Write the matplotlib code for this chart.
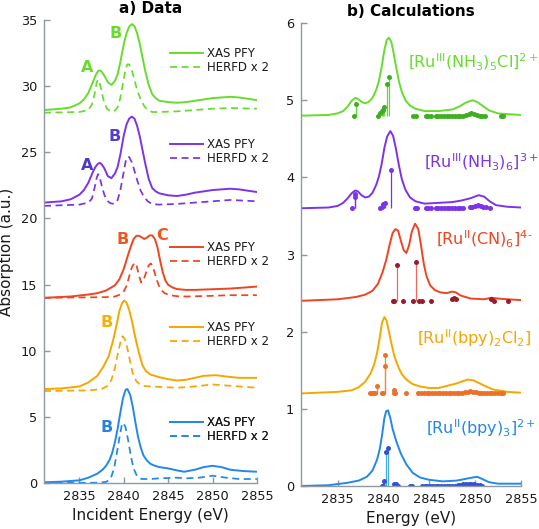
import matplotlib
matplotlib.use('Agg')
import matplotlib.pyplot as plt

plt.rcParams['font.family'] = ['DejaVu Sans']
plt.rcParams['mathtext.default'] = 'regular'

# ---------------- data: panel a (experiment) ----------------
green_pfy_x = [2831, 2833, 2834, 2835, 2835.5, 2836, 2836.5, 2836.8, 2837.1, 2837.3, 2837.5, 2837.8, 2838.2,
               2838.6, 2839, 2839.3, 2839.6, 2840, 2840.3, 2840.6, 2840.9, 2841.2, 2841.5, 2841.8, 2842.1,
               2842.4, 2842.8, 2843.2, 2843.6, 2844, 2845, 2846, 2847, 2848, 2849, 2850, 2851, 2852, 2853,
               2854, 2855]
green_pfy_y = [28.2, 28.3, 28.4, 28.7, 29.0, 29.5, 30.3, 30.8, 31.15, 31.2, 31.1, 30.8, 30.3,
               30.1, 30.4, 30.9, 31.8, 33.2, 34.0, 34.5, 34.7, 34.55, 34.0, 33.2, 32.2,
               31.2, 30.1, 29.4, 29.1, 28.9, 28.8, 28.75, 28.8, 28.9, 29.0, 29.1, 29.15, 29.2, 29.15,
               29.05, 28.95]
green_herfd_x = [2831, 2835, 2836, 2836.4, 2836.7, 2836.95, 2837.1, 2837.25, 2837.5, 2837.8, 2838.1, 2838.5,
                 2838.9, 2839.3, 2839.6, 2839.9, 2840.2, 2840.4, 2840.6, 2840.9, 2841.2, 2841.5, 2841.9,
                 2842.3, 2842.7, 2843.2, 2844, 2846, 2848, 2850, 2852, 2855]
green_herfd_y = [28.0, 28.05, 28.2, 28.6, 29.4, 30.3, 30.5, 30.35, 29.6, 28.7, 28.3, 28.12,
                 28.1, 28.4, 29.1, 30.2, 31.3, 31.65, 31.65, 31.2, 30.5, 29.7, 29.0,
                 28.5, 28.2, 28.05, 28.05, 28.1, 28.2, 28.3, 28.35, 28.3]

purple_pfy_x = green_pfy_x
purple_pfy_y = [21.2, 21.3, 21.45, 21.8, 22.15, 22.7, 23.5, 23.9, 24.15, 24.2, 24.1, 23.8, 23.2,
                23.05, 23.4, 23.9, 24.8, 26.3, 27.1, 27.55, 27.7, 27.55, 27.0, 26.2, 25.2,
                24.2, 23.0, 22.3, 22.05, 21.9, 21.75, 21.7, 21.8, 21.95, 22.05, 22.15, 22.2, 22.25, 22.2,
                22.1, 22.0]
purple_herfd_x = green_herfd_x
purple_herfd_y = [20.95, 21.05, 21.2, 21.5, 22.3, 23.1, 23.35, 23.2, 22.5, 21.8, 21.35, 21.15,
                  21.1, 21.4, 22.1, 23.2, 24.3, 24.65, 24.65, 24.25, 23.6, 22.9, 22.1,
                  21.6, 21.3, 21.08, 21.05, 21.1, 21.2, 21.3, 21.4, 21.3]

red_pfy_x = [2831, 2834, 2836, 2837, 2838, 2839, 2839.5, 2840, 2840.5, 2840.8, 2841.1, 2841.4, 2841.7, 2842,
             2842.3, 2842.6, 2842.9, 2843.2, 2843.5, 2843.8, 2844.1, 2844.4, 2844.7, 2845, 2845.5, 2846,
             2847, 2848, 2850, 2852, 2854, 2855]
red_pfy_y = [14.0, 14.1, 14.25, 14.35, 14.55, 14.95, 15.4, 16.2, 17.3, 17.9, 18.45, 18.68, 18.7, 18.58,
             18.45, 18.55, 18.72, 18.72, 18.45, 17.8, 16.8, 15.9, 15.3, 14.98, 14.78, 14.66,
             14.6, 14.6, 14.65, 14.7, 14.8, 14.85]
red_herfd_x = [2831, 2838, 2839, 2839.6, 2840, 2840.3, 2840.6, 2840.9, 2841.2, 2841.45, 2841.7, 2841.95,
               2842.2, 2842.5, 2842.8, 2843.05, 2843.3, 2843.6, 2843.9, 2844.2, 2844.6, 2845.2, 2846,
               2847, 2850, 2852, 2855]
red_herfd_y = [14.0, 14.05, 14.1, 14.25, 14.5, 14.9, 15.6, 16.3, 16.65, 16.4, 15.7, 15.15,
               15.3, 15.9, 16.45, 16.6, 16.3, 15.6, 15.0, 14.6, 14.35, 14.2, 14.12,
               14.1, 14.15, 14.2, 14.2]

orange_pfy_x = [2831, 2833, 2835, 2836, 2837, 2837.7, 2838.3, 2838.8, 2839.2, 2839.5, 2839.8, 2840.05, 2840.3,
                2840.6, 2840.9, 2841.2, 2841.5, 2841.8, 2842.1, 2842.5, 2843, 2843.5, 2844, 2845, 2846, 2847,
                2848, 2849, 2850.4, 2851.5, 2853, 2855]
orange_pfy_y = [7.1, 7.15, 7.3, 7.6, 8.1, 8.8, 9.6, 10.8, 12.0, 13.0, 13.6, 13.8, 13.65,
                13.1, 12.3, 11.3, 10.4, 9.6, 8.9, 8.45, 8.2, 8.1, 8.0, 7.85, 7.75, 7.8,
                7.95, 8.1, 8.15, 8.05, 7.95, 7.95]
orange_herfd_x = [2831, 2836, 2837.5, 2838.2, 2838.6, 2839.0, 2839.3, 2839.6, 2839.85, 2840.1, 2840.4, 2840.7,
                  2841.0, 2841.4, 2841.8, 2842.3, 2843, 2846, 2848, 2850, 2852, 2855]
orange_herfd_y = [6.95, 7.0, 7.1, 7.35, 7.8, 8.7, 9.7, 10.6, 11.1, 10.9, 10.2, 9.2,
                  8.3, 7.7, 7.45, 7.33, 7.3, 7.2, 7.3, 7.45, 7.35, 7.2]

blue_pfy_x = [2831, 2833, 2835, 2836, 2837, 2837.6, 2838, 2838.4, 2838.7, 2839, 2839.3, 2839.6, 2839.9,
              2840.2, 2840.4, 2840.7, 2841, 2841.3, 2841.6, 2841.9, 2842.2, 2842.6, 2843, 2843.5, 2844,
              2845, 2846, 2846.8, 2848, 2849, 2850, 2851, 2852, 2853.5, 2855]
blue_pfy_y = [0.05, 0.1, 0.2, 0.4, 0.7, 1.0, 1.3, 1.75, 2.3, 3.1, 4.1, 5.3, 6.4,
              7.05, 7.1, 6.7, 5.8, 4.6, 3.5, 2.7, 2.1, 1.7, 1.45, 1.3, 1.2,
              1.1, 0.95, 0.85, 1.0, 1.2, 1.3, 1.2, 1.0, 0.9, 0.85]
blue_herfd_x = [2831, 2837, 2838, 2838.5, 2838.9, 2839.2, 2839.5, 2839.75, 2839.95, 2840.2, 2840.5, 2840.8,
                2841.1, 2841.5, 2842, 2843, 2844, 2846, 2847, 2848.5, 2850, 2851.5, 2853, 2855]
blue_herfd_y = [0.0, 0.02, 0.08, 0.3, 1.1, 2.2, 3.4, 4.3, 4.55, 4.2, 3.2, 2.0,
                1.1, 0.5, 0.3, 0.3, 0.35, 0.4, 0.35, 0.4, 0.55, 0.4, 0.3, 0.3]

legend_labels = ['XAS PFY', 'HERFD x 2']

# ---------------- data: panel b (calculations) ----------------
green_calc_x = [2831, 2834, 2835, 2835.6, 2836.1, 2836.5, 2836.9, 2837.2, 2837.6, 2838.0, 2838.4, 2838.8,
                2839.2, 2839.5, 2839.8, 2840.1, 2840.35, 2840.6, 2840.85, 2841.1, 2841.4, 2841.7, 2842.0,
                2842.4, 2842.9, 2843.5, 2844.5, 2846, 2847.5, 2848.3, 2849, 2849.7, 2850.2, 2850.8,
                2851.5, 2852.5, 2853.5, 2855]
green_calc_y = [4.8, 4.81, 4.83, 4.86, 4.92, 4.99, 5.03, 5.02, 4.98, 4.96, 4.98, 5.03,
                5.13, 5.25, 5.43, 5.65, 5.78, 5.81, 5.76, 5.62, 5.42, 5.24, 5.11,
                5.0, 4.93, 4.89, 4.86, 4.86, 4.88, 4.92, 4.97, 5.0, 4.98, 4.93,
                4.87, 4.83, 4.82, 4.81]
purple_calc_x = [2831, 2834, 2835, 2835.6, 2836.1, 2836.5, 2836.9, 2837.2, 2837.6, 2838.0, 2838.4, 2838.8,
                 2839.2, 2839.5, 2839.8, 2840.1, 2840.4, 2840.75, 2841.05, 2841.35, 2841.7, 2842.0, 2842.4,
                 2842.9, 2843.5, 2844.5, 2846, 2847.5, 2848.5, 2849.5, 2850.4, 2851, 2851.6, 2852.3,
                 2853.5, 2855]
purple_calc_y = [3.6, 3.61, 3.63, 3.67, 3.73, 3.79, 3.83, 3.82, 3.77, 3.74, 3.75, 3.8,
                 3.9, 4.01, 4.17, 4.38, 4.53, 4.6, 4.54, 4.38, 4.15, 3.98, 3.84,
                 3.74, 3.69, 3.66, 3.67, 3.68, 3.7, 3.73, 3.77, 3.75, 3.69, 3.64,
                 3.62, 3.61]
red_calc_x = [2831, 2835, 2837, 2838, 2838.8, 2839.4, 2839.9, 2840.3, 2840.7, 2841.0, 2841.3, 2841.6, 2841.9,
              2842.2, 2842.5, 2842.8, 2843.1, 2843.45, 2843.8, 2844.1, 2844.4, 2844.7, 2845.1, 2845.6,
              2846.2, 2846.9, 2847.5, 2847.9, 2848.4, 2849.5, 2851, 2851.8, 2852.5, 2853.5, 2855]
red_calc_y = [2.4, 2.42, 2.45, 2.48, 2.53, 2.62, 2.77, 2.93, 3.14, 3.28, 3.33, 3.31, 3.18,
              3.06, 3.02, 3.12, 3.3, 3.4, 3.33, 3.12, 2.88, 2.72, 2.6, 2.54,
              2.51, 2.5, 2.52, 2.51, 2.47, 2.43, 2.42, 2.44, 2.43, 2.42, 2.41]
orange_calc_x = [2831, 2835, 2836.5, 2837.3, 2838.0, 2838.6, 2839.0, 2839.3, 2839.6, 2839.85, 2840.1, 2840.35,
                 2840.6, 2840.9, 2841.2, 2841.6, 2842.0, 2842.5, 2843.2, 2844, 2845, 2846, 2847, 2848,
                 2848.7, 2849.2, 2849.8, 2850.5, 2851.2, 2852, 2853.5, 2855]
orange_calc_y = [1.2, 1.22, 1.24, 1.28, 1.35, 1.46, 1.58, 1.72, 1.93, 2.12, 2.19, 2.14,
                 2.0, 1.83, 1.68, 1.55, 1.45, 1.38, 1.32, 1.29, 1.27, 1.27, 1.3, 1.33,
                 1.36, 1.38, 1.37, 1.33, 1.29, 1.25, 1.22, 1.21]
blue_calc_x = [2831, 2834, 2836, 2837.3, 2838.2, 2838.8, 2839.3, 2839.6, 2839.85, 2840.1, 2840.3, 2840.5,
               2840.75, 2841.0, 2841.4, 2841.9, 2842.5, 2843.2, 2844, 2845, 2846.5, 2848, 2849.3, 2850.2,
               2850.8, 2851.5, 2852.5, 2855]
blue_calc_y = [0.0, 0.01, 0.04, 0.07, 0.12, 0.2, 0.34, 0.48, 0.66, 0.88, 0.97, 0.98,
               0.88, 0.74, 0.58, 0.42, 0.28, 0.17, 0.11, 0.08, 0.06, 0.07, 0.1, 0.12,
               0.09, 0.05, 0.03, 0.03]

# transitions (energy, intensity above offset)
green_stick_e = [2836.8, 2837.0, 2839.4, 2839.6, 2839.8, 2839.95, 2840.1, 2840.4, 2840.6,
                 2843.2, 2843.5, 2844.6, 2844.9, 2845.2, 2845.7, 2846.0, 2846.3, 2846.6, 2846.9, 2847.2,
                 2847.5, 2847.8, 2848.1, 2848.4, 2848.7, 2849.0, 2849.3, 2849.6, 2849.9, 2850.2, 2850.5,
                 2850.8, 2851.1, 2852.8, 2853.1]
green_stick_i = [0.0, 0.15, 0.0, 0.03, 0.06, 0.08, 0.11, 0.41, 0.5,
                 0, 0, 0, 0, 0, 0, 0, 0, 0, 0, 0,
                 0, 0, 0, 0, 0, 0.01, 0.02, 0.03, 0.02, 0.01, 0,
                 0, 0, 0, 0]
purple_stick_e = [2836.6, 2836.9, 2836.9, 2839.6, 2839.8, 2840.0, 2840.2, 2840.8,
                  2843.4, 2843.7, 2844.6, 2844.9, 2845.2, 2845.7, 2846.0, 2846.3, 2846.6, 2846.9, 2847.2,
                  2847.5, 2847.8, 2848.1, 2848.4, 2848.7, 2849.4, 2849.7, 2850.0, 2850.3, 2850.6, 2850.9,
                  2851.2, 2851.6]
purple_stick_i = [0.0, 0.18, 0.14, 0.0, 0.02, 0.05, 0.07, 0.5,
                  0, 0, 0, 0, 0, 0, 0, 0, 0, 0, 0,
                  0, 0, 0, 0, 0, 0.01, 0.02, 0.03, 0.04, 0.03, 0.02,
                  0.01, 0]
red_stick_e = [2841.0, 2841.2, 2841.5, 2842.1, 2843.2, 2843.5, 2843.9, 2844.2, 2845.2, 2847.5, 2847.7,
               2847.9, 2851.7, 2852.1, 2853.6]
red_stick_i = [0, 0, 0.46, 0, 0, 0.5, 0, 0, 0, 0.02, 0.04, 0.02, 0.02, 0, 0]
orange_stick_e = [2838.5, 2838.7, 2838.9, 2839.1, 2839.3, 2839.8, 2840.0, 2840.2, 2840.2,
                  2841.1, 2841.2, 2841.3, 2842.5,
                  2843.8, 2844.1, 2844.4, 2844.7, 2845.0, 2845.3, 2845.6, 2845.9, 2846.2, 2846.5, 2846.8,
                  2847.1, 2847.4, 2847.7, 2848.0, 2848.3, 2848.6, 2848.9, 2849.2, 2849.5, 2849.8, 2850.1,
                  2850.4, 2850.7, 2851.0, 2851.3, 2851.6, 2851.9, 2852.2, 2852.5, 2852.8, 2853.1]
orange_stick_i = [0, 0, 0, 0, 0.1, 0, 0, 0.35, 0.5,
                  0, 0.04, 0, 0,
                  0, 0, 0, 0, 0, 0, 0, 0, 0, 0, 0,
                  0, 0, 0, 0, 0, 0.01, 0.02, 0.02, 0.03, 0.02, 0.02,
                  0.01, 0, 0, 0, 0, 0, 0, 0, 0, 0]
blue_stick_e = [2839.8, 2840.0, 2840.1, 2840.3, 2840.5, 2841.2, 2841.4, 2841.6, 2842.9, 2843.1,
                2844.2, 2844.5, 2844.8, 2845.1, 2845.4, 2845.7, 2846.0, 2846.3, 2846.6, 2846.9, 2847.2,
                2847.5, 2847.8, 2848.1, 2848.4, 2848.7, 2849.0, 2849.3, 2849.6, 2849.9, 2850.2, 2850.5,
                2850.8]
blue_stick_i = [0, 0, 0.06, 0.44, 0.49, 0.02, 0.03, 0, 0, 0,
                0, 0, 0, 0, 0, 0, 0, 0, 0, 0, 0,
                0, 0, 0.01, 0.01, 0.02, 0.02, 0.03, 0.02, 0.02, 0.01, 0.01,
                0]

calc_offsets = [4.8, 3.6, 2.4, 1.2, 0.0]
calc_labels = [r'[Ru$^{III}$(NH$_3$)$_5$Cl]$^{2+}$',
               r'[Ru$^{III}$(NH$_3$)$_6$]$^{3+}$',
               r'[Ru$^{II}$(CN)$_6$]$^{4\text{-}}$',
               r'[Ru$^{II}$(bpy)$_2$Cl$_2$]',
               r'[Ru$^{II}$(bpy)$_3$]$^{2+}$']

# ---------------- styling ----------------
c_green, c_purple, c_red, c_orange, c_blue = '#66dd2c', '#7c33ea', '#ee4422', '#f5a700', '#2288ea'
stick_marker = ['#3fae22', '#7c33ea', '#9a1a2e', '#ee7028', '#3350d8']
stick_line = ['#66dd2c', '#7c33ea', '#ee6a5a', '#ee8a3a', '#44aaee']
spine_c = '#8d99a3'

fig = plt.figure(figsize=(5.39, 5.29), dpi=100)
axL = fig.add_axes([0.0816, 0.087, 0.395, 0.875])
axR = fig.add_axes([0.5584, 0.0813, 0.408, 0.875])

for ax in (axL, axR):
    for s in ('top', 'right'):
        ax.spines[s].set_visible(False)
    for s in ('left', 'bottom'):
        ax.spines[s].set_color(spine_c)
        ax.spines[s].set_linewidth(1.0)
    ax.tick_params(direction='in', length=4, width=1, color=spine_c, labelsize=9.3,
                   labelcolor='#1a1a1a', pad=5)
    ax.set_xlim(2831, 2855)
    ax.set_xticks([2835, 2840, 2845, 2850, 2855])

# ---- panel a ----
lw = 1.4
dash = (4, 2.6)
pairs = [
    (green_pfy_x, green_pfy_y, green_herfd_x, green_herfd_y, c_green, 0.9125),
    (purple_pfy_x, purple_pfy_y, purple_herfd_x, purple_herfd_y, c_purple, 0.716),
    (red_pfy_x, red_pfy_y, red_herfd_x, red_herfd_y, c_red, 0.4935),
    (orange_pfy_x, orange_pfy_y, orange_herfd_x, orange_herfd_y, c_orange, 0.3207),
    (blue_pfy_x, blue_pfy_y, blue_herfd_x, blue_herfd_y, c_blue, 0.1156),
]
for px, py, hx, hy, col, ly in pairs:
    h1, = axL.plot(px, py, color=col, lw=lw, solid_joinstyle='round')
    h2, = axL.plot(hx, hy, color=col, lw=lw * 0.9, dashes=dash, dash_joinstyle='round')
    leg = axL.legend([h1, h2], legend_labels, loc='center left', bbox_to_anchor=(0.5915, ly),
                     frameon=False, fontsize=8.5, handlelength=2.8, handletextpad=0.35,
                     labelspacing=0.12, borderpad=0, borderaxespad=0)
    for t in leg.get_texts():
        t.set_color('#1a1a1a')
    axL.add_artist(leg)

axL.set_ylim(0, 35)
axL.set_yticks([0, 5, 10, 15, 20, 25, 30, 35])
axL.set_ylabel('Absorption (a.u.)', fontsize=11, labelpad=5, color='#1a1a1a')
axL.set_xlabel('Incident Energy (eV)', fontsize=11, labelpad=4, color='#1a1a1a')
axL.set_title('a) Data', fontsize=11, fontweight='bold', pad=5)

lab_kw = dict(fontsize=11.5, fontweight='bold', ha='center', va='center')
axL.text(2835.9, 31.4, 'A', color=c_green, **lab_kw)
axL.text(2839.1, 34.0, 'B', color=c_green, **lab_kw)
axL.text(2835.9, 24.0, 'A', color='#5038c0', **lab_kw)
axL.text(2839.0, 26.2, 'B', color='#5a3ad2', **lab_kw)
axL.text(2839.9, 18.4, 'B', color='#f05522', **lab_kw)
axL.text(2844.3, 18.75, 'C', color='#f05522', **lab_kw)
axL.text(2838.1, 12.1, 'B', color='#f5b000', **lab_kw)
axL.text(2838.1, 4.2, 'B', color='#2a80e0', **lab_kw)

# ---- panel b ----
calc = [
    (green_calc_x, green_calc_y, green_stick_e, green_stick_i, c_green),
    (purple_calc_x, purple_calc_y, purple_stick_e, purple_stick_i, c_purple),
    (red_calc_x, red_calc_y, red_stick_e, red_stick_i, c_red),
    (orange_calc_x, orange_calc_y, orange_stick_e, orange_stick_i, c_orange),
    (blue_calc_x, blue_calc_y, blue_stick_e, blue_stick_i, c_blue),
]
for k, (cx, cy, se, si, col) in enumerate(calc):
    b = calc_offsets[k]
    axR.plot(cx, cy, color=col, lw=lw, solid_joinstyle='round')
    tops = [b + v for v in si]
    axR.vlines(se, b, tops, color=stick_line[k], lw=0.9)
    axR.plot(se, tops, 'o', color=stick_marker[k], ms=3.6, mew=0)

axR.set_ylim(0, 6)
axR.set_yticks([0, 1, 2, 3, 4, 5, 6])
axR.set_xlabel('Energy (eV)', fontsize=11, labelpad=4, color='#1a1a1a')
axR.set_title('b) Calculations', fontsize=11, fontweight='bold', pad=5)

lbl_pos = [(2842.7, 5.49), (2844.4, 4.19), (2845.7, 3.19), (2843.65, 1.92), (2844.6, 0.75)]
lbl_col = [c_green, c_purple, c_red, c_orange, c_blue]
for (lx, ly), txt, col in zip(lbl_pos, calc_labels, lbl_col):
    axR.text(lx, ly, txt, color=col, fontsize=11.5, ha='left', va='center', clip_on=False)

fig.savefig('out.png', dpi=100)
